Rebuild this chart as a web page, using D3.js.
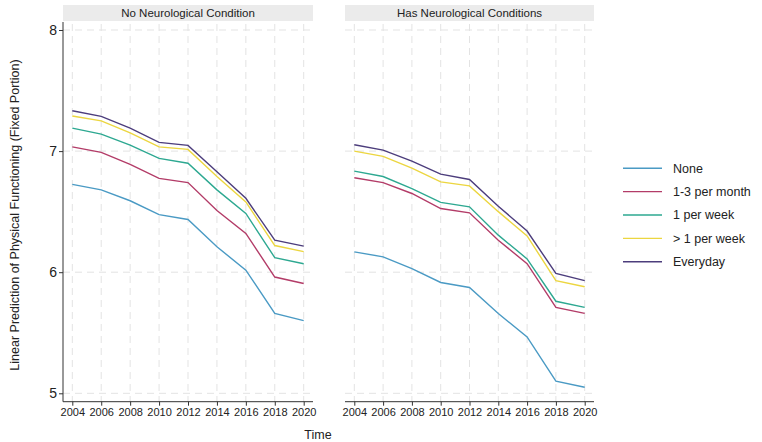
<!DOCTYPE html>
<html><head><meta charset="utf-8">
<script src="https://cdn.jsdelivr.net/npm/d3@7"></script>
<style>body{margin:0;background:#fff;}svg{display:block;font-family:Arial,"Liberation Sans",sans-serif;}</style>
</head><body>
<svg id="c" width="762" height="442"></svg>
<script>
const years = [2004,2006,2008,2010,2012,2014,2016,2018,2020];
const panels = ["No Neurological Condition","Has Neurological Conditions"];
const seriesNames = ["None","1-3 per month","1 per week","> 1 per week","Everyday"];
const colors = ["#4a9ac4","#b33c68","#2da891","#ecd640","#4c3d7c"];
const yTicks = [5,6,7,8];

// Panel 1: No Neurological Condition
const noneA     = [6.725,6.68,6.59,6.475,6.435,6.21,6.017,5.66,5.60];
const m13A      = [7.035,6.99,6.89,6.775,6.74,6.51,6.32,5.96,5.907];
const w1A       = [7.19,7.14,7.05,6.94,6.90,6.68,6.485,6.12,6.07];
const gt1A      = [7.29,7.25,7.15,7.035,7.014,6.79,6.58,6.22,6.17];
const everyA    = [7.333,7.287,7.19,7.072,7.047,6.83,6.61,6.264,6.215];
// Panel 2: Has Neurological Conditions
const noneB     = [6.168,6.127,6.03,5.915,5.874,5.659,5.465,5.10,5.05];
const m13B      = [6.78,6.74,6.65,6.526,6.49,6.264,6.07,5.71,5.66];
const w1B       = [6.835,6.79,6.69,6.576,6.54,6.306,6.11,5.76,5.71];
const gt1B      = [7.0,6.956,6.86,6.746,6.713,6.50,6.30,5.93,5.88];
const everyB    = [7.052,7.008,6.917,6.81,6.766,6.545,6.34,5.99,5.93];

const panelData = [[noneA,m13A,w1A,gt1A,everyA],[noneB,m13B,w1B,gt1B,everyB]];

const svg = d3.select("#c");
const y = d3.scaleLinear().domain([5,8]).range([393.3,30]);
const panelTop = 22, panelBottom = 401.7;
const panelX = [[63,313],[345,594]];
const pad = 9.3;

panelData.forEach((pd,pi)=>{
  const [x0,x1] = panelX[pi];
  const x = d3.scaleLinear().domain([2004,2020]).range([x0+pad,x1-pad]);
  const g = svg.append("g");
  // strip
  g.append("rect").attr("x",x0).attr("y",5).attr("width",x1-x0).attr("height",16).attr("fill","#ebebeb");
  g.append("text").attr("x",(x0+x1)/2).attr("y",17.2).attr("text-anchor","middle")
    .attr("font-size",11.5).attr("fill","#222").text(panels[pi]);
  // grid
  g.selectAll(".hg").data(yTicks).join("line")
    .attr("x1",x0).attr("x2",x1).attr("y1",d=>y(d)).attr("y2",d=>y(d))
    .attr("stroke","#e3e3e3").attr("stroke-width",1).attr("stroke-dasharray","7,5");
  g.selectAll(".vg").data(years).join("line")
    .attr("x1",d=>x(d)).attr("x2",d=>x(d)).attr("y1",panelTop+2).attr("y2",panelBottom)
    .attr("stroke","#e3e3e3").attr("stroke-width",1).attr("stroke-dasharray","7,5");
  // x axis
  const xa = g.append("g").attr("transform",`translate(0,${panelBottom})`)
    .call(d3.axisBottom(x).tickValues(years).tickFormat(d3.format("d")).tickSize(4).tickSizeOuter(0));
  xa.select(".domain").attr("d",`M${x0},0H${x1}`).attr("stroke","#333");
  xa.selectAll(".tick line").attr("stroke","#333");
  xa.selectAll("text").attr("font-size",11).attr("fill","#222").attr("dy","0.72em").attr("y",6);
  if(pi===0){
    const ya = g.append("g").attr("transform",`translate(${x0},0)`)
      .call(d3.axisLeft(y).tickValues(yTicks).tickFormat(d3.format("d")).tickSize(4).tickSizeOuter(0));
    ya.select(".domain").attr("d",`M0,${panelTop}V${panelBottom}`).attr("stroke","#333");
    ya.selectAll(".tick line").attr("stroke","#333");
    ya.selectAll("text").attr("font-size",14).attr("fill","#222").attr("x",-6);
  }
  // lines
  const line = d3.line().x((d,i)=>x(years[i])).y(d=>y(d));
  pd.forEach((s,si)=>{
    g.append("path").attr("d",line(s)).attr("fill","none")
      .attr("stroke",colors[si]).attr("stroke-width",1.4);
  });
});

// axis titles
svg.append("text").attr("transform","translate(19,215) rotate(-90)").attr("text-anchor","middle")
  .attr("font-size",12.5).attr("fill","#222").text("Linear Prediction of Physical Functioning (Fixed Portion)");
svg.append("text").attr("x",318).attr("y",439).attr("text-anchor","middle")
  .attr("font-size",12.5).attr("fill","#222").text("Time");

// legend
const lg = svg.append("g");
seriesNames.forEach((n,i)=>{
  const yy = 168.3 + i*23.35;
  lg.append("line").attr("x1",623).attr("x2",662).attr("y1",yy).attr("y2",yy)
    .attr("stroke",colors[i]).attr("stroke-width",1.4);
  lg.append("text").attr("x",673).attr("y",yy).attr("dy","0.35em").attr("font-size",12.5)
    .attr("fill","#222").text(n);
});
</script>
</body></html>
